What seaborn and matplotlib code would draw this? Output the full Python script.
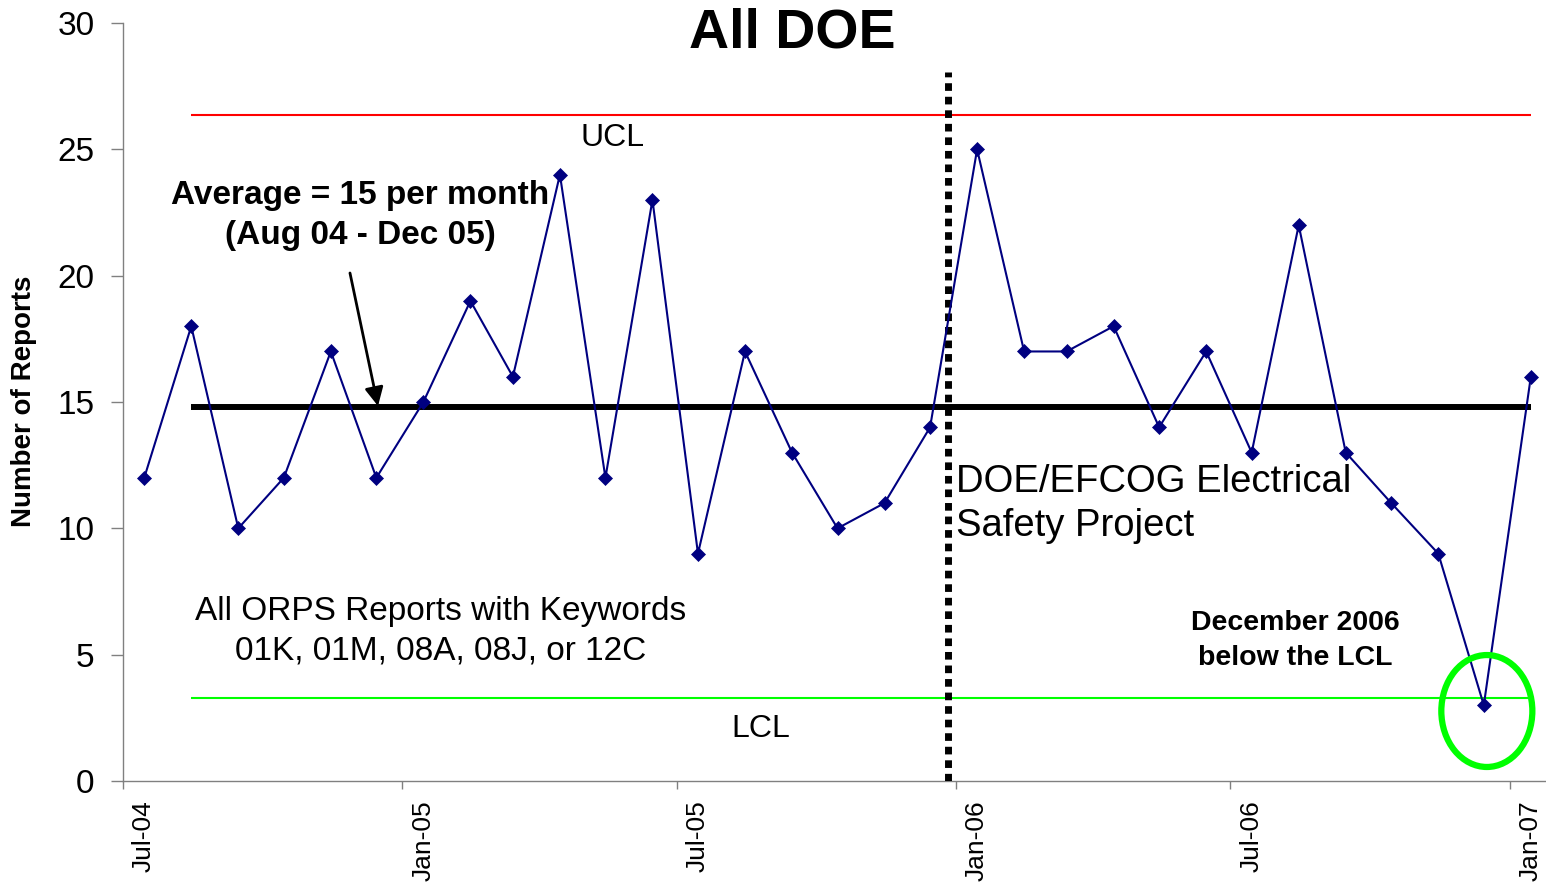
import numpy as np
import pandas as pd
import seaborn as sns
import matplotlib.pyplot as plt
import matplotlib.dates as mdates
import matplotlib.transforms as mtransforms
from matplotlib.patches import Ellipse


# monthly ORPS report counts, Jul 2004 - Jan 2007 (plotted mid-month)
months = pd.date_range("2004-07-01", "2007-01-01", freq="MS") + pd.Timedelta(days=14)
reports = [12, 18, 10, 12, 17, 12, 15, 19, 16, 24, 12, 23, 9, 17, 13, 10, 11, 14,
           25, 17, 17, 18, 14, 17, 13, 22, 13, 11, 9, 3, 16]

average = 14.82   # Aug 04 - Dec 05
ucl = 26.37
lcl = 3.27
project_start = pd.Timestamp("2005-12-27")

df = pd.DataFrame({"Month": months, "Reports": reports})

sns.set_style("white")
plt.rcParams["font.family"] = ["Liberation Sans", "DejaVu Sans"]
plt.rcParams["text.color"] = "black"
plt.rcParams["axes.labelcolor"] = "black"

fig = plt.figure(figsize=(15.46, 8.82), dpi=100)
ax = fig.add_axes([123 / 1546, 101 / 882, 1423 / 1546, 758 / 882])

# control lines (from Aug 04 on)
ax.hlines(ucl, months[1], months[-1], color="#FF0000", lw=1.5, zorder=2)
ax.hlines(lcl, months[1], months[-1], color="#00FF00", lw=1.5, zorder=2)
ax.hlines(average, months[1], months[-1], color="black", lw=4.3, zorder=2)
ax.vlines(project_start, 0, 28.05, color="black", lw=5,
          linestyles=[(0, (1.1, 0.85))], zorder=3)

sns.lineplot(data=df, x="Month", y="Reports", ax=ax, color="#000080", lw=1.5,
             marker="D", markersize=7, markeredgewidth=0.5,
             markeredgecolor="#000080", zorder=4)

# circle the December 2006 point
dec06 = months[-2]
ax.add_patch(Ellipse((mdates.date2num(dec06) + 2, 2.77), width=60, height=4.43,
                     fill=False, edgecolor="#00FF00", lw=4.5, zorder=5))

ax.set_xlim(pd.Timestamp("2004-07-01"), pd.Timestamp("2007-01-25"))
ax.set_ylim(0, 30)
ax.set_yticks([0, 5, 10, 15, 20, 25, 30])
ax.xaxis.set_major_locator(mdates.MonthLocator(bymonth=[1, 7]))
ax.xaxis.set_major_formatter(mdates.DateFormatter("%b-%y"))
ax.tick_params(axis="y", labelsize=24, length=8.5, width=1, color="#808080",
               labelcolor="black", direction="out", left=True, pad=12)
ax.tick_params(axis="x", labelsize=19, length=6, width=1, color="#808080",
               labelcolor="black", direction="out", bottom=True,
               labelrotation=90, pad=8)
shift = mtransforms.ScaledTranslation(0.21, 0, fig.dpi_scale_trans)
for lab in ax.get_xticklabels():
    lab.set_va("top")
    lab.set_transform(lab.get_transform() + shift)

for side in ["top", "right"]:
    ax.spines[side].set_visible(False)
for side in ["left", "bottom"]:
    ax.spines[side].set_color("#808080")
    ax.spines[side].set_linewidth(1.0)

ax.set_xlabel("")
ax.set_ylabel("Number of Reports", fontsize=20, fontweight="bold")
ax.yaxis.set_label_coords(-0.0604, 0.501)

fig.text(792 / 1546, 1 - 33 / 882, "All DOE", fontsize=40, fontweight="bold",
         ha="center", va="center")

ax.text(0.3443, 0.848, "UCL", transform=ax.transAxes, fontsize=23,
        ha="center", va="center")
ax.text(0.4483, 0.0686, "LCL", transform=ax.transAxes, fontsize=23,
        ha="center", va="center")
ax.text(0.1666, 0.746, "Average = 15 per month\n(Aug 04 - Dec 05)",
        transform=ax.transAxes, fontsize=24, fontweight="bold",
        ha="center", va="center", linespacing=1.35)
ax.annotate("", xy=(0.1792, 0.4947), xytext=(0.1595, 0.6702),
            xycoords="axes fraction", textcoords="axes fraction",
            arrowprops=dict(arrowstyle="-|>", color="black", lw=2,
                            mutation_scale=28, shrinkA=0, shrinkB=0))
ax.text(0.5854, 0.3655, "DOE/EFCOG Electrical\nSafety Project",
        transform=ax.transAxes, fontsize=27.5, ha="left", va="center",
        linespacing=1.27)
ax.text(0.2235, 0.198, "All ORPS Reports with Keywords\n01K, 01M, 08A, 08J, or 12C",
        transform=ax.transAxes, fontsize=24, ha="center", va="center",
        linespacing=1.35)
ax.text(0.8236, 0.1855, "December 2006\nbelow the LCL", transform=ax.transAxes,
        fontsize=20.5, fontweight="bold", ha="center", va="center",
        linespacing=1.45)

fig.savefig("out.png", dpi=100)
